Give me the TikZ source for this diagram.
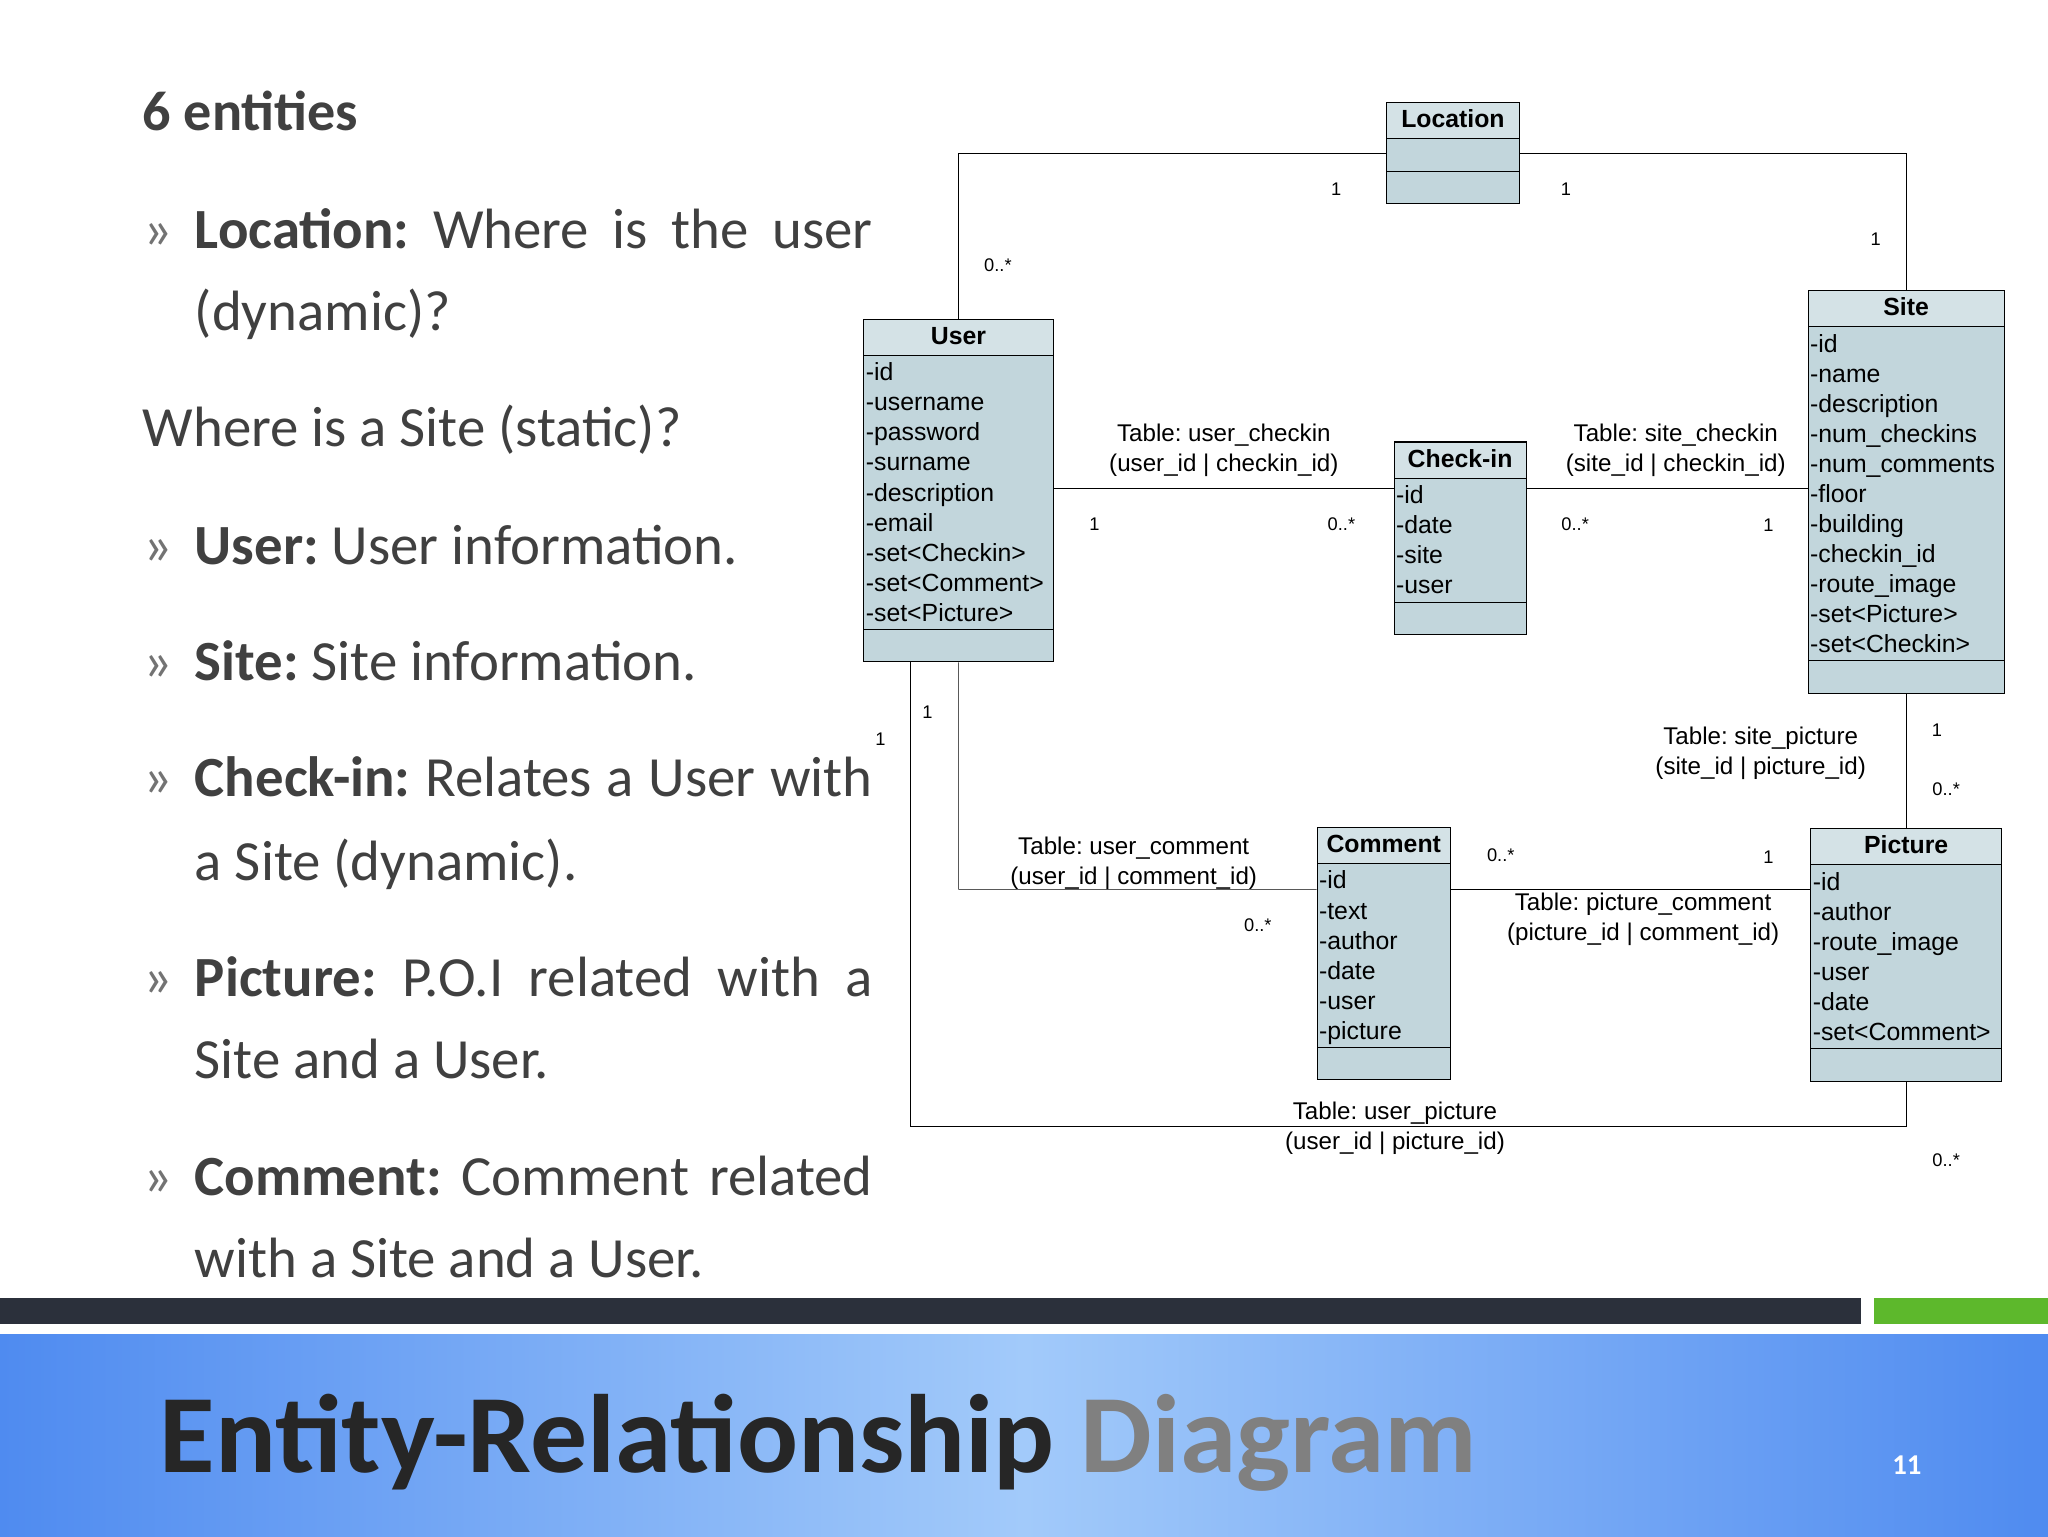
\documentclass[tikz,border=0pt]{standalone}
\usepackage{fontspec}
\setmainfont{Carlito}
\newfontfamily\diag{Liberation Sans}
\usetikzlibrary{shapes, calc}
\definecolor{boxfill}{HTML}{C2D6DC}
\definecolor{hdrfill}{HTML}{D4E2E6}
\definecolor{slidetext}{HTML}{404040}
\definecolor{darkbar}{HTML}{2B303B}
\definecolor{greenbar}{HTML}{5DB82C}
\definecolor{bluemid}{HTML}{A2CAFA}
\definecolor{blueside}{HTML}{4F8BF0}
\newcommand{\hdr}[1]{\rule[-8pt]{0pt}{27pt}\makebox[\linewidth][c]{\textbf{#1}}}
\newcommand{\topstrut}{\rule{0pt}{19pt}}
\newcommand{\botstrut}{\rule[-6pt]{0pt}{0pt}}
\newcommand{\emptypart}{\rule{0pt}{24pt}}
\frenchspacing

\begin{document}
\begin{tikzpicture}[x=1pt, y=-1pt]
	\tikzstyle{entity}=[
	draw,
	thick,
	rectangle split,
	rectangle split parts=3,
	rectangle split part fill={hdrfill,boxfill,boxfill},
	anchor=north west,
	inner xsep=1.5pt,
	inner ysep=0pt,
	font=\diag\fontsize{19}{23}\selectfont
	]
	\tikzstyle{mult}=[font=\diag\fontsize{14}{16}\selectfont]
	\tikzstyle{table}=[font=\diag\fontsize{18.5}{23}\selectfont, align=center]
	\tikzstyle{bullet}=[anchor=base west, inner sep=0pt, text=slidetext, font=\fontsize{43.5}{50}\selectfont]
	\useasboundingbox (0,0) rectangle (1568,1176);
	% slide
	\fill[darkbar] (0,994) rectangle (1425,1014);
	\fill[greenbar] (1435,994) rectangle (1568,1014);
	\shade[left color=blueside, right color=blueside, middle color=bluemid] (0,1022) rectangle (1568,1176);
	\node[anchor=base west, inner sep=0pt] (title) at (122,1127)
		{\resizebox{1008pt}{60pt}{\bfseries\color{black!85}Entity-Relationship \color{black!50}Diagram}};
	\node[text=white, font=\bfseries\fontsize{22}{24}\selectfont] (page) at (1460,1122) {11};
	\node[bullet, font=\bfseries\fontsize{43}{48}\selectfont] (head) at (109,100) {6 entities};
	\foreach \y/\n in {190/b1,432/b2,521/b3,610/b4,763/b5,915/b6}
		\node[bullet, text=black!55] (\n) at (110,\y) {»};
	\node[bullet] (t1) at (149,190) {\makebox[519pt][s]{\textbf{Location:} Where is the user}};
	\node[bullet] (t2) at (149,253) {(dynamic)?};
	\node[bullet] (t3) at (109,342) {Where is a Site (static)?};
	\node[bullet] (t4) at (149,432) {\textbf{User:} User information.};
	\node[bullet] (t5) at (149,521) {\textbf{Site:} Site information.};
	\node[bullet] (t6) at (149,610) {\makebox[519pt][s]{\textbf{Check-in:} Relates a User with}};
	\node[bullet] (t7) at (149,674) {a Site (dynamic).};
	\node[bullet] (t8) at (149,763) {\makebox[519pt][s]{\textbf{Picture:} P.O.I related with a}};
	\node[bullet] (t9) at (149,826) {Site and a User.};
	\node[bullet] (t10) at (149,915) {\makebox[519pt][s]{\textbf{Comment:} Comment related}};
	\node[bullet] (t11) at (149,978) {with a Site and a User.};
	% entities
	\node[entity, text width=99pt] (loc) at (1061,78) {\hdr{Location} \nodepart{two}\emptypart \nodepart{three}\emptypart};
	\node[entity, text width=142pt] (user) at (661,244) {\hdr{User}
		\nodepart{two}\topstrut -id\\-username\\-password\\-surname\\-description\\-email\\-set<Checkin>\\-set<Comment>\\-set<Picture>\botstrut
		\nodepart{three}\emptypart};
	\node[entity, text width=98pt] (chk) at (1067,338) {\hdr{Check-in}
		\nodepart{two}\topstrut -id\\-date\\-site\\-user\botstrut
		\nodepart{three}\emptypart};
	\node[entity, text width=147pt] (site) at (1384,222) {\hdr{Site}
		\nodepart{two}\topstrut -id\\-name\\-description\\-num\_checkins\\-num\_comments\\-floor\\-building\\-checkin\_id\\-route\_image\\-set<Picture>\\-set<Checkin>\botstrut
		\nodepart{three}\emptypart};
	\node[entity, text width=99pt] (com) at (1008,633) {\hdr{Comment}
		\nodepart{two}\topstrut -id\\-text\\-author\\-date\\-user\\-picture\botstrut
		\nodepart{three}\emptypart};
	\node[entity, text width=143pt] (pic) at (1386,634) {\hdr{Picture}
		\nodepart{two}\topstrut -id\\-author\\-route\_image\\-user\\-date\\-set<Comment>\botstrut
		\nodepart{three}\emptypart};
	% relations
	\coordinate (uc) at (734,681);
	\coordinate (up) at (697,862);
	\coordinate (ck) at (0,374);
	\draw (user.north) |- (loc.west);
	\draw (loc.east) -| (site.north);
	\draw (user.east |- ck) -- (chk.west |- ck);
	\draw (chk.east |- ck) -- (site.west |- ck);
	\draw (user.south) -- (uc) -- (uc -| com.west);
	\draw (user.south -| up) -- (up) -| (pic.south);
	\draw (site.south) -- (pic.north);
	\draw (com.east |- uc) -- (uc -| pic.west);
	% multiplicities
	\foreach \x/\y/\t [count=\i] in {764/203/0..*, 1023/145/1, 1199/145/1, 1436/183/1,
		838/401/1, 1027/401/0..*, 1206/401/0..*, 1354/402/1,
		710/545/1, 963/708/0..*, 674/566/1, 1490/888/0..*,
		1483/559/1, 1490/604/0..*, 1149/655/0..*, 1354/656/1}
		\node[mult] (m\i) at (\x,\y) {\t};
	\node[table] (r1) at (937,345) {Table: user\_checkin\\(user\_id | checkin\_id)};
	\node[table] (r2) at (1283,345) {Table: site\_checkin\\(site\_id | checkin\_id)};
	\node[table] (r3) at (868,661) {Table: user\_comment\\(user\_id | comment\_id)};
	\node[table] (r4) at (1068,864) {Table: user\_picture\\(user\_id | picture\_id)};
	\node[table] (r5) at (1348,577) {Table: site\_picture\\(site\_id | picture\_id)};
	\node[table] (r6) at (1258,704) {Table: picture\_comment\\(picture\_id | comment\_id)};
\end{tikzpicture}
\end{document}
